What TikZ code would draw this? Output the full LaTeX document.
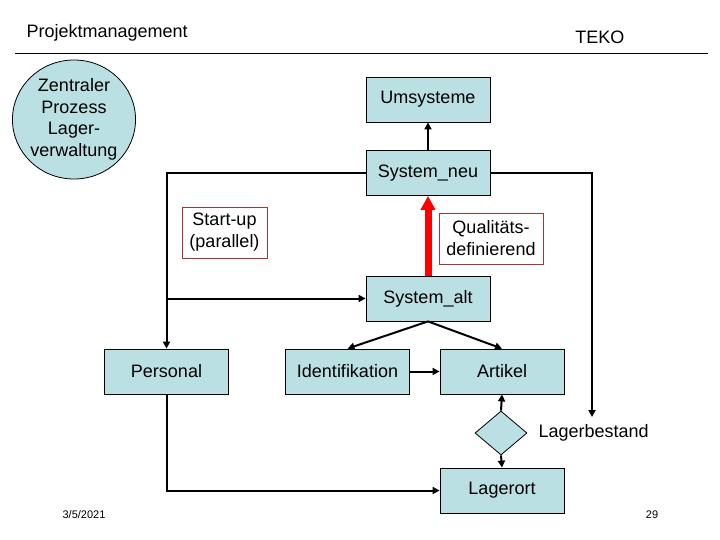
\documentclass[tikz,border=0pt]{standalone}
\usepackage{fontspec}
\setmainfont{Liberation Sans}
\usetikzlibrary{shapes.geometric,arrows.meta}
\definecolor{boxblue}{RGB}{187,224,227}
\definecolor{framered}{RGB}{165,55,55}
\tikzset{
  box/.style={draw=black, line width=0.8pt, fill=boxblue, minimum width=124pt, minimum height=45pt, inner sep=0pt, font=\fontsize{18}{21.5}\selectfont},
  notebox/.style={draw=framered, line width=0.8pt, fill=white, minimum height=51pt, inner sep=0pt, align=center, font=\fontsize{18}{22}\selectfont},
  conn/.style={line width=2pt, -{Triangle[length=7pt,width=7pt]}},
  plain/.style={line width=2pt}
}
\begin{document}
\begin{tikzpicture}[x=1pt,y=-1pt]
\useasboundingbox (0,0) rectangle (720,540);
% header
\node[anchor=west, font=\fontsize{18}{21}\selectfont] (titel) at (23,33) {Projektmanagement};
\node[anchor=east, font=\fontsize{18}{21}\selectfont] (teko) at (628,37) {TEKO};
\draw[line width=1pt] (15,54) -- (708,54);
% process circle
\node[ellipse, draw=black, line width=0.8pt, fill=boxblue, minimum width=120pt, minimum height=119pt, inner sep=0pt, align=center, font=\fontsize{18}{21.5}\selectfont] (zentral) at (74,119.5) {Zentraler\\Prozess\\Lager-\\verwaltung};
% boxes
\node[box] (umsys) at (428,99.5) {Umsysteme};
\node[box] (sysneu) at (428,173) {System\_neu};
\node[box] (sysalt) at (428,298.5) {System\_alt};
\node[box] (personal) at (166.5,371.5) {Personal};
\node[box] (ident) at (347.5,371.5) {Identifikation};
\node[box] (artikel) at (502,371.5) {Artikel};
\node[box] (lagerort) at (502,490.5) {Lagerort};
\node[diamond, draw=black, line width=0.8pt, fill=boxblue, minimum width=52pt, minimum height=44pt, inner sep=0pt] (raute) at (501,433) {};
\node[anchor=west, font=\fontsize{18}{21}\selectfont] (bestandtext) at (535,433) {Lagerbestand};
% notes
\node[notebox, minimum width=85pt] (startup) at (224.5,232.5) {Start-up\\(parallel)};
\node[notebox, minimum width=104pt] (quali) at (491,238.5) {Qualitäts-\\definierend};
% connectors
\coordinate (bestand) at (592,417);
\draw[conn] (sysneu.north) -- (umsys.south);
\draw[conn] (sysneu.west) -| (personal.north);
\draw[conn] (sysalt.west -| personal.north) -- (sysalt.west);
\draw[conn] (sysneu.east) -| (bestand);
\draw[conn] (sysalt.south) -- (ident.north);
\draw[conn] (sysalt.south) -- (artikel.north);
\draw[conn] (ident.east) -- (artikel.west);
\draw[conn] (raute.north) -- (artikel.south);
\draw[conn] (raute.south) -- (lagerort.north);
\draw[conn] (personal.south) |- (lagerort.west);
\draw[red, line width=7pt, -{Triangle[length=14pt,width=14pt]}] (sysalt.north) -- (sysneu.south);
% footer
\node[font=\fontsize{11}{13}\selectfont] (datum) at (84,515) {3/5/2021};
\node[font=\fontsize{11}{13}\selectfont] (seite) at (652,515) {29};
\end{tikzpicture}
\end{document}
